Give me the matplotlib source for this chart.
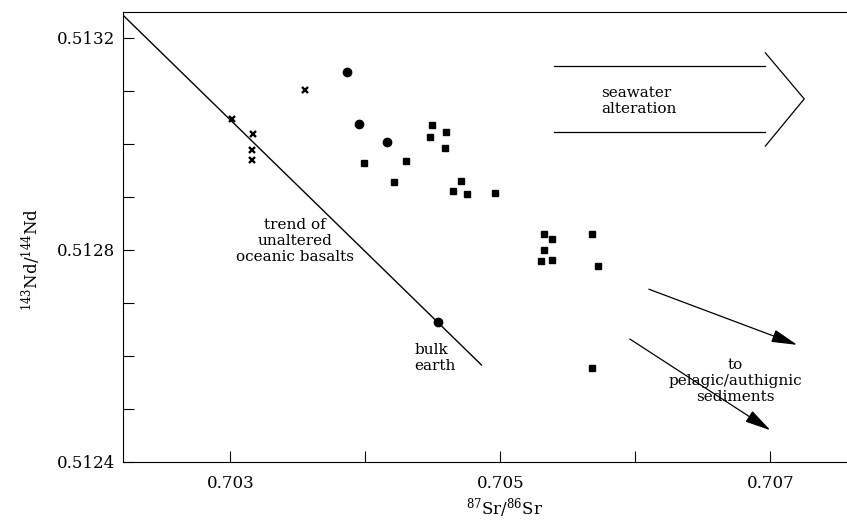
#Nd-Sr isotope diagram: oceanic basalts vs seawater alteration / sediments
import numpy as np
import matplotlib.pyplot as plt

# crosses
cross_x=[0.70301,0.70317,0.70316,0.70316,0.70355]
cross_y=[0.513048,0.513019,0.512989,0.512970,0.513102]

# filled circles
circle_x=[0.70386,0.70395,0.70416]
circle_y=[0.513136,0.513038,0.513004]

# filled squares
square_x=[0.70399,0.70430,0.70421,0.70449,0.70448,0.70460,0.70459,0.70471,0.70465,0.70475,0.70496,
          0.70532,0.70538,0.70532,0.70530,0.70538,0.70568,0.70572,0.70568]
square_y=[0.512965,0.512968,0.512929,0.513035,0.513013,0.513023,0.512993,0.512930,0.512911,0.512905,0.512907,
          0.512830,0.512820,0.512800,0.512780,0.512781,0.512830,0.512770,0.512578]

# bulk earth
bulk_x=[0.70454]
bulk_y=[0.512665]

# trend of unaltered oceanic basalts
trend_x=[0.702204,0.70486]
trend_y=[0.513243,0.512583]

x_ticks=[0.703,0.704,0.705,0.706,0.707]
x_labels=['0.703','','0.705','','0.707']
y_ticks=[0.5124,0.5125,0.5126,0.5127,0.5128,0.5129,0.5130,0.5131,0.5132]
y_labels=['0.5124','','','','0.5128','','','','0.5132']

def main():
    plt.rcParams['font.family']='DejaVu Serif'
    plt.rcParams['mathtext.fontset']='dejavuserif'

    fig=plt.figure(figsize=(8.47,5.27),dpi=100)
    ax=fig.add_axes([123/847,65/527,1-123/847,450/527])

    ax.plot(trend_x,trend_y,color='k',lw=1.0)
    ax.plot(cross_x,cross_y,'x',color='k',ms=4.5,mew=1.7)
    ax.plot(circle_x,circle_y,'o',color='k',ms=6)
    ax.plot(bulk_x,bulk_y,'o',color='k',ms=6)
    ax.plot(square_x,square_y,'s',color='k',ms=4.5)

    # hollow "seawater alteration" arrow
    ax.plot([0.705399,0.706963],[0.513147,0.513147],color='k',lw=0.9)
    ax.plot([0.705399,0.706963],[0.513023,0.513023],color='k',lw=0.9)
    ax.plot([0.706963,0.707251,0.706963],[0.513172,0.513085,0.512996],color='k',lw=0.9)
    ax.text(0.705745,0.513081,'seawater\nalteration',fontsize=11,ha='left',va='center')

    # arrows to sediments
    arr=dict(arrowstyle='-|>,head_length=1.6,head_width=0.4',color='k',lw=0.9,shrinkA=0,shrinkB=0)
    ax.annotate('',xy=(0.707199,0.512621),xytext=(0.706100,0.512726),arrowprops=arr)
    ax.annotate('',xy=(0.707000,0.512460),xytext=(0.705959,0.512632),arrowprops=arr)
    ax.text(0.706742,0.512553,'to\npelagic/authignic\nsediments',fontsize=11,ha='center',va='center')

    ax.text(0.70348,0.512817,'trend of\nunaltered\noceanic basalts',fontsize=11,ha='center',va='center')
    ax.text(0.704365,0.512596,'bulk\nearth',fontsize=11,ha='left',va='center')

    ax.set_xlim(0.702204,0.707568)
    ax.set_ylim(0.5124,0.513249)
    ax.set_xticks(x_ticks)
    ax.set_xticklabels(x_labels)
    ax.set_yticks(y_ticks)
    ax.set_yticklabels(y_labels)
    ax.tick_params(direction='in',length=8,width=0.8,labelsize=12)
    ax.tick_params(axis='x',pad=9)
    ax.tick_params(axis='y',pad=6)
    ax.spines['right'].set_visible(False)
    for s in ['left','top','bottom']:
        ax.spines[s].set_linewidth(0.8)

    ax.set_xlabel(r'$^{87}$Sr/$^{86}$Sr',fontsize=12)
    ax.xaxis.set_label_coords((505-123)/724,-0.075)
    ax.set_ylabel(r'$^{143}$Nd/$^{144}$Nd',fontsize=12)
    ax.yaxis.set_label_coords(-0.11,0.45)

    fig.savefig('out.png',dpi=100)

if __name__=='__main__':
    main()
